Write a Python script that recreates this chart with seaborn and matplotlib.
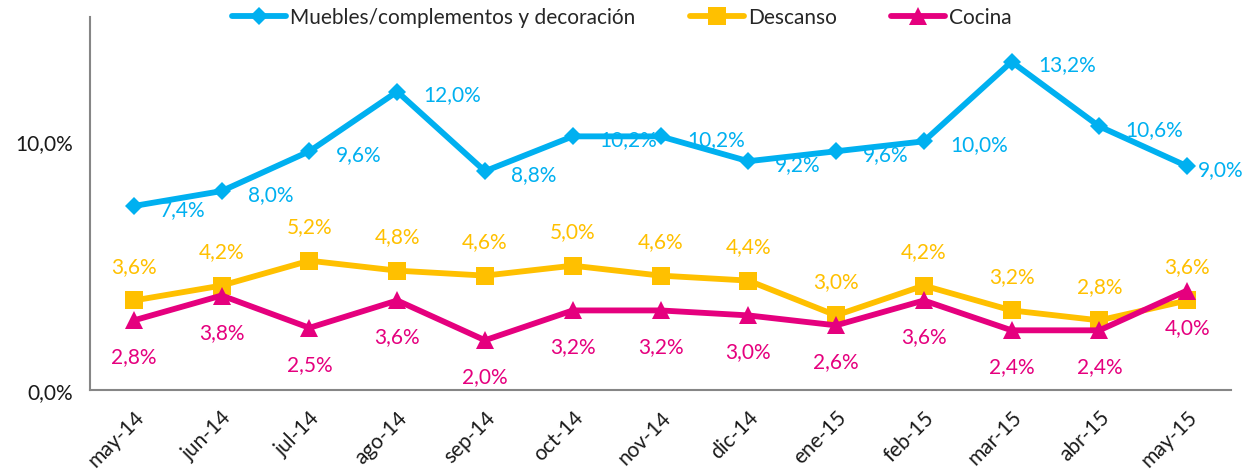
import matplotlib
matplotlib.use("Agg")
import matplotlib.pyplot as plt
import seaborn as sns
import pandas as pd
import numpy as np

months = ["may-14", "jun-14", "jul-14", "ago-14", "sep-14", "oct-14", "nov-14",
          "dic-14", "ene-15", "feb-15", "mar-15", "abr-15", "may-15"]
muebles = [7.4, 8.0, 9.6, 12.0, 8.8, 10.2, 10.2, 9.2, 9.6, 10.0, 13.2, 10.6, 9.0]
descanso = [3.6, 4.2, 5.2, 4.8, 4.6, 5.0, 4.6, 4.4, 3.0, 4.2, 3.2, 2.8, 3.6]
cocina = [2.8, 3.8, 2.5, 3.6, 2.0, 3.2, 3.2, 3.0, 2.6, 3.6, 2.4, 2.4, 4.0]
series_names = ["Muebles/complementos y decoración", "Descanso", "Cocina"]
yticks = [0, 10]

sns.set_theme(style="white")
plt.rcParams["font.family"] = ["Lato", "DejaVu Sans"]
FS = 15

fig = plt.figure(figsize=(12.54, 4.77), dpi=100)
ax = fig.add_axes([90/1254, 1-391/477, (1231-90)/1254, (391-18)/477])

x = np.arange(len(months))
styles = [
    (muebles, "#00B0F0", "D", 9.5, "right"),
    (descanso, "#FFC000", "s", 12.5, "above"),
    (cocina, "#E5007E", "^", 12.5, "below"),
]
n = len(months)
for (vals, col, mk, ms, pos), name in zip(styles, series_names):
    df = pd.DataFrame({"x": x, "y": vals})
    sns.lineplot(data=df, x="x", y="y", ax=ax, color=col, linewidth=4.2,
                 marker=mk, markersize=ms, markeredgewidth=0,
                 markerfacecolor=col, label=name, legend=False)
    for i, (xi, v) in enumerate(zip(x, vals)):
        txt = f"{v:.1f}%".replace(".", ",")
        if pos == "right":
            dx = 8 if i == n - 1 else 19
            ax.annotate(txt, (xi, v), xytext=(dx, -2), textcoords="offset points",
                        ha="left", va="center", color=col, fontsize=FS)
        elif pos == "above":
            ax.annotate(txt, (xi, v), xytext=(0, 25), textcoords="offset points",
                        ha="center", va="center", color=col, fontsize=FS)
        else:
            ax.annotate(txt, (xi, v), xytext=(0, -26), textcoords="offset points",
                        ha="center", va="center", color=col, fontsize=FS)

ax.set_xlim(-0.5, n - 0.5)
ax.set_ylim(0, 15)
ax.set_yticks(yticks)
ax.set_yticklabels([f"{t:.1f}%".replace(".", ",") for t in yticks], fontsize=FS, color="#1a1a1a")
ax.set_xticks(x)
ax.set_xticklabels(months, rotation=45, ha="right", va="top", rotation_mode="anchor",
                   fontsize=FS, color="#1a1a1a")
ax.set_xticks(np.arange(-0.5, n), minor=True)
ax.tick_params(axis="x", which="major", length=0, pad=12)
ax.tick_params(axis="x", which="minor", length=6, width=1.5, color="#868686", direction="out")
ax.tick_params(axis="y", which="major", length=6, width=1.5, color="#868686", direction="out", pad=6)
ax.set_xlabel("")
ax.set_ylabel("")
for s in ["top", "right"]:
    ax.spines[s].set_visible(False)
for s in ["left", "bottom"]:
    ax.spines[s].set_color("#868686")
    ax.spines[s].set_linewidth(1.5)
ax.grid(False)

h, l = ax.get_legend_handles_labels()
fig.legend(h, l, loc="center", bbox_to_anchor=(0.496, 0.962), ncol=3, frameon=False,
           fontsize=FS, handlelength=2.6, columnspacing=2.6, handletextpad=0.2,
           borderaxespad=0)

fig.savefig("out.png", dpi=100)
